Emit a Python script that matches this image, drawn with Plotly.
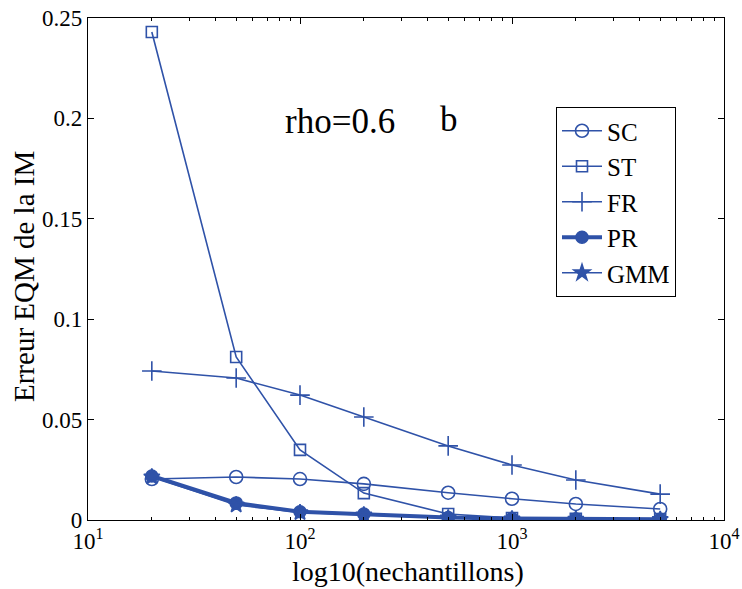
import plotly.graph_objects as go

n_samples = [20, 50, 100, 200, 500, 1000, 2000, 5000]
sc = [0.0204, 0.0214, 0.0204, 0.0180, 0.0136, 0.0106, 0.0080, 0.0055]
st = [0.243, 0.0812, 0.0349, 0.0134, 0.0030, 0.0010, 0.0006, 0.0005]
fr = [0.0742, 0.0707, 0.0622, 0.0513, 0.0369, 0.0274, 0.0199, 0.0129]
pr = [0.0219, 0.0085, 0.0041, 0.0030, 0.0012, 0.0007, 0.0005, 0.0004]
gmm = [0.0215, 0.0075, 0.0037, 0.0025, 0.0010, 0.0006, 0.0004, 0.0003]

x_tickvals = [10, 100, 1000, 10000]
x_ticktext = ["10<sup>1</sup>", "10<sup>2</sup>", "10<sup>3</sup>", "10<sup>4</sup>"]
x_minor = [m * d for d in (10, 100, 1000) for m in range(2, 10)]
y_tickvals = [0, 0.05, 0.1, 0.15, 0.2, 0.25]
y_ticktext = ["0", "0.05", "0.1", "0.15", "0.2", "0.25"]

BLUE = "#2f52a8"
FONT = "Liberation Serif"

L, R, T, B = 88, 724, 18, 520
W, H = 742, 589
PW, PH = R - L, B - T

def px(x):
    return (x - L) / PW

def py(y):
    return (B - y) / PH

fig = go.Figure()
series = [
    ("SC", sc, "circle-open", 13, 1.6),
    ("ST", st, "square-open", 11, 1.6),
    ("FR", fr, "cross-thin-open", 14, 1.6),
    ("PR", pr, "circle", 12, 4),
    ("GMM", gmm, "star", 12, 1.6),
]
for name, vals, sym, size, lw in series:
    fig.add_trace(go.Scatter(
        x=n_samples, y=vals, name=name, mode="lines+markers",
        line=dict(color=BLUE, width=lw),
        marker=dict(symbol=sym, size=size, color=BLUE,
                    line=dict(color=BLUE, width=1.6)),
    ))

axis_common = dict(
    showline=True, linecolor="black", linewidth=1.2, mirror="ticks",
    ticks="inside", ticklen=6, tickcolor="black", showgrid=False, zeroline=False,
    tickfont=dict(family=FONT, size=23, color="black"), automargin=False,
)
fig.update_xaxes(
    type="log", range=[1, 4], tickvals=x_tickvals, ticktext=x_ticktext,
    minor=dict(tickmode="array", tickvals=x_minor, ticks="inside", ticklen=3,
               tickcolor="black", showgrid=False),
    **axis_common,
)
fig.update_yaxes(
    range=[0, 0.25], tickvals=y_tickvals, ticktext=y_ticktext,
    **axis_common,
)

fig.add_annotation(text="log10(nechantillons)", x=px(408), y=py(571), xref="paper", yref="paper",
                   xanchor="center", yanchor="middle", showarrow=False,
                   font=dict(family=FONT, size=28, color="black"))
fig.add_annotation(text="Erreur EQM de la IM", x=px(24), y=py(277), xref="paper", yref="paper",
                   xanchor="center", yanchor="middle", showarrow=False, textangle=-90,
                   font=dict(family=FONT, size=29, color="black"))
fig.add_annotation(text="rho=0.6", x=px(340), y=py(100), xref="paper", yref="paper",
                   showarrow=False, font=dict(family=FONT, size=35, color="black"))
fig.add_annotation(text="b", x=px(449), y=py(98), xref="paper", yref="paper",
                   showarrow=False, font=dict(family=FONT, size=35, color="black"))

fig.update_layout(
    width=W, height=H,
    margin=dict(l=L, r=W - R, t=T, b=H - B),
    paper_bgcolor="white", plot_bgcolor="white",
    showlegend=True,
    legend=dict(
        x=px(556), y=py(107), xanchor="left", yanchor="top",
        bgcolor="white", bordercolor="black", borderwidth=1,
        font=dict(family=FONT, size=25, color="black"),
        tracegroupgap=0, itemwidth=40,
    ),
)

fig.write_html("out.html")
